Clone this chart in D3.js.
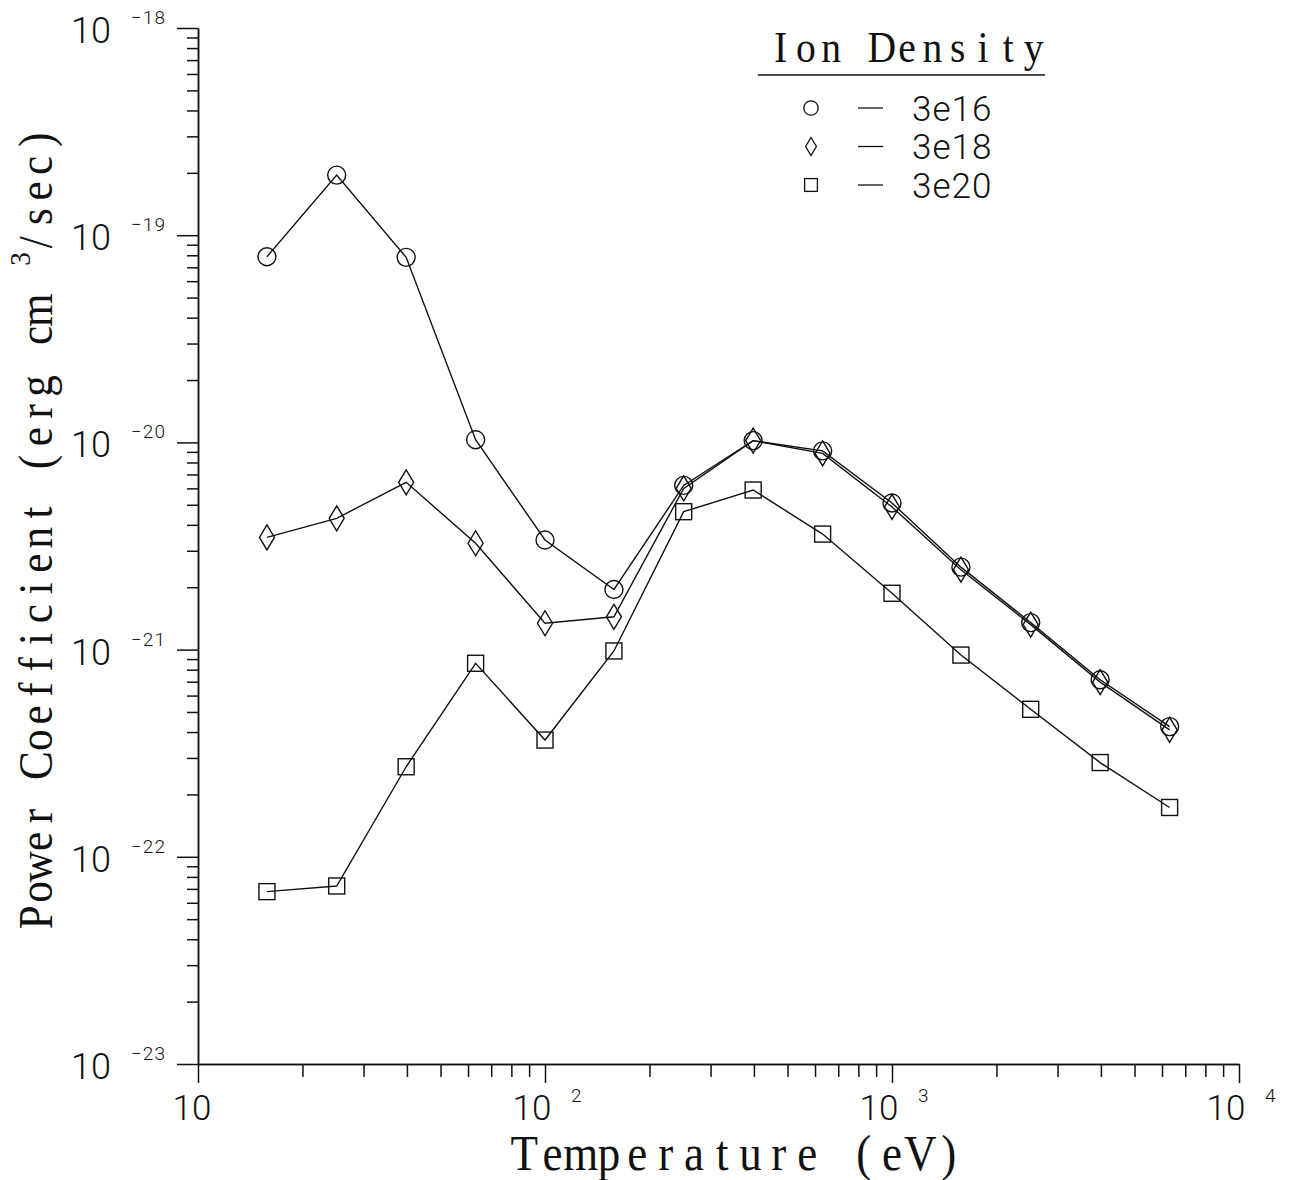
<!DOCTYPE html>
<html>
<head>
<meta charset="utf-8">
<script src="https://cdn.jsdelivr.net/npm/d3@7"></script>
<style>
  body { margin: 0; background: #fff; }
  .num { font-family: Roboto, 'Liberation Sans', sans-serif; font-weight: 300; fill: #111; }
  .serif { font-family: 'Liberation Serif', serif; fill: #111; }
</style>
</head>
<body>
<script>
(function () {

  // Temperatures (eV), 5 points per decade
  let temps = [15.8, 25.1, 39.8, 63.1, 100, 158, 251, 398, 631, 1000, 1580, 2510, 3980, 6310];

  // Power coefficient (erg cm^3/sec) for each ion density
  let n3e16 = [7.87e-20, 1.95e-19, 7.82e-20, 1.03e-20, 3.38e-21, 1.95e-21, 6.2e-21,
               1.02e-20, 9.1e-21, 5.1e-21, 2.5e-21, 1.35e-21, 7.15e-22, 4.25e-22];
  let n3e18 = [3.48e-21, 4.3e-21, 6.42e-21, 3.26e-21, 1.34e-21, 1.44e-21, 6.0e-21,
               1.02e-20, 8.85e-21, 4.88e-21, 2.43e-21, 1.32e-21, 6.97e-22, 4.1e-22];
  let n3e20 = [6.79e-23, 7.23e-23, 2.72e-22, 8.59e-22, 3.66e-22, 9.85e-22, 4.63e-21,
               5.89e-21, 3.61e-21, 1.87e-21, 9.41e-22, 5.15e-22, 2.85e-22, 1.73e-22];

  let seriesNames = ['3e16', '3e18', '3e20'];
  let seriesShapes = ['circle', 'diamond', 'square'];

  // Tick labels: 10 with an exponent
  let xDecades = [1, 2, 3, 4];
  let xExponents = ['', '2', '3', '4'];
  let yDecades = [-18, -19, -20, -21, -22, -23];

  let width = 1291, height = 1180;

  let svg = d3.select('body').append('svg')
      .attr('width', width)
      .attr('height', height)
      .attr('viewBox', '0 0 ' + width + ' ' + height);

  svg.append('rect').attr('width', width).attr('height', height).attr('fill', '#fff');

  let x = d3.scaleLog().domain([10, 1e4]).range([198, 1239]);
  let y = d3.scaleLog().domain([1e-23, 1e-18]).range([1064, 28]);

  function minorTicks(lo, hi) {
    let t = [];
    for (let e = lo; e < hi; e++) {
      for (let m = 2; m <= 9; m++) t.push(m * Math.pow(10, e));
    }
    return t;
  }

  let axisStyle = g => g.call(s => s.selectAll('path, line').attr('stroke', '#111').attr('stroke-width', 1.5))
                        .call(s => s.selectAll('text').remove());

  // y axis: minor then major ticks
  svg.append('g').attr('transform', 'translate(198,0)')
    .call(d3.axisLeft(y).tickValues(minorTicks(-23, -18)).tickSize(11).tickSizeOuter(0).tickFormat(''))
    .call(axisStyle);
  svg.append('g').attr('transform', 'translate(198,0)')
    .call(d3.axisLeft(y).tickValues(yDecades.map(e => Math.pow(10, e))).tickSize(21).tickSizeOuter(0).tickFormat(''))
    .call(axisStyle);

  // x axis
  svg.append('g').attr('transform', 'translate(0,1064)')
    .call(d3.axisBottom(x).tickValues(minorTicks(1, 4)).tickSize(13).tickSizeOuter(0).tickFormat(''))
    .call(axisStyle);
  svg.append('g').attr('transform', 'translate(0,1064)')
    .call(d3.axisBottom(x).tickValues(xDecades.map(e => Math.pow(10, e))).tickSize(19).tickSizeOuter(0).tickFormat(''))
    .call(axisStyle);

  // y tick labels
  let yl = svg.append('g').selectAll('g').data(yDecades).enter().append('g')
      .attr('transform', d => 'translate(0,' + y(Math.pow(10, d)) + ')');
  yl.append('text').attr('class', 'num').attr('x', 111).attr('y', 15)
    .attr('text-anchor', 'end').attr('font-size', 36).text('10');
  yl.append('text').attr('class', 'num').attr('x', 131).attr('y', -4)
    .attr('font-size', 19).attr('letter-spacing', 1).text(d => '\u2212' + (-d));

  // x tick labels
  let xl = svg.append('g').selectAll('g').data(xDecades).enter().append('g')
      .attr('transform', (d, i) => 'translate(' + x(Math.pow(10, d)) + ',1064)');
  xl.append('text').attr('class', 'num')
    .attr('x', (d, i) => i === 0 ? -6 : -13).attr('y', 56)
    .attr('text-anchor', 'middle').attr('font-size', 35).text('10');
  xl.append('text').attr('class', 'num').attr('x', 26).attr('y', 38)
    .attr('font-size', 19).text((d, i) => xExponents[i]);

  // Evenly spaced serif lettering, like the old plotter font
  function monoText(g, str, u0, adv, size, sx) {
    str.split('').forEach((c, i) => {
      if (c === ' ') return;
      g.append('text').attr('class', 'serif')
        .attr('font-size', size)
        .attr('text-anchor', 'middle')
        .attr('transform', 'translate(' + (u0 + i * adv + adv / 2) + ',0) scale(' + sx + ',1)')
        .text(c);
    });
  }

  // x title
  monoText(svg.append('g').attr('transform', 'translate(0,1170)'),
           'Temperature (eV)', 510, 28.3, 50, 0.9);

  // y title (rotated)
  let yt = svg.append('g').attr('transform', 'translate(52,930) rotate(-90)');
  monoText(yt, 'Power Coefficient (erg cm', 0, 25.3, 49, 0.88);
  yt.append('text').attr('class', 'serif').attr('font-size', 30)
    .attr('text-anchor', 'middle')
    .attr('transform', 'translate(671,-22) scale(0.9,1)').text('3');
  monoText(yt, '/sec)', 675, 25.6, 49, 0.88);

  // Marker shapes
  function drawShape(sel, shape, s) {
    if (shape === 'circle') {
      sel.append('circle').attr('r', 9 * s);
    } else if (shape === 'diamond') {
      sel.append('path').attr('d', 'M0,' + (-12.5 * s) + 'L' + (7.5 * s) + ',0L0,' + (12.5 * s) + 'L' + (-7.5 * s) + ',0Z');
    } else {
      sel.append('rect').attr('x', -8 * s).attr('y', -8 * s).attr('width', 16 * s).attr('height', 16 * s);
    }
  }

  let series = [n3e16, n3e18, n3e20];
  let line = d3.line().x(d => x(d[0])).y(d => y(d[1]));

  series.forEach((vals, k) => {
    let pts = temps.map((t, i) => [t, vals[i]]);
    svg.append('path')
      .attr('d', line(pts))
      .attr('fill', 'none')
      .attr('stroke', '#111')
      .attr('stroke-width', 1.4);

    svg.append('g').selectAll('g').data(pts).enter().append('g')
      .attr('transform', d => 'translate(' + x(d[0]) + ',' + y(d[1]) + ')')
      .each(function () { drawShape(d3.select(this), seriesShapes[k], 1); })
      .selectAll('*').attr('fill', 'none').attr('stroke', '#111').attr('stroke-width', 1.4);
  });

  // Legend
  let legend = svg.append('g');
  monoText(legend.append('g').attr('transform', 'translate(0,62)'), 'Ion Density', 768, 25.3, 45, 0.88);
  legend.append('line').attr('x1', 758).attr('x2', 1045).attr('y1', 75).attr('y2', 75)
    .attr('stroke', '#111').attr('stroke-width', 1.6);

  let rows = legend.selectAll('g.row').data(seriesNames).enter().append('g')
      .attr('class', 'row')
      .attr('transform', (d, i) => 'translate(0,' + (108 + i * 38.5) + ')');
  rows.each(function (d, i) {
    let g = d3.select(this).append('g').attr('transform', 'translate(811,0)');
    drawShape(g, seriesShapes[i], i === 1 ? 0.72 : 0.8);
    g.selectAll('*').attr('fill', 'none').attr('stroke', '#111').attr('stroke-width', 1.3);
  });
  rows.append('line').attr('x1', 858).attr('x2', 883).attr('y1', 0).attr('y2', 0)
    .attr('stroke', '#111').attr('stroke-width', 1.3);
  rows.append('text').attr('class', 'num').attr('x', 912).attr('y', 12.5)
    .attr('font-size', 35).attr('letter-spacing', 1).text(d => d);

})();
</script>
</body>
</html>
